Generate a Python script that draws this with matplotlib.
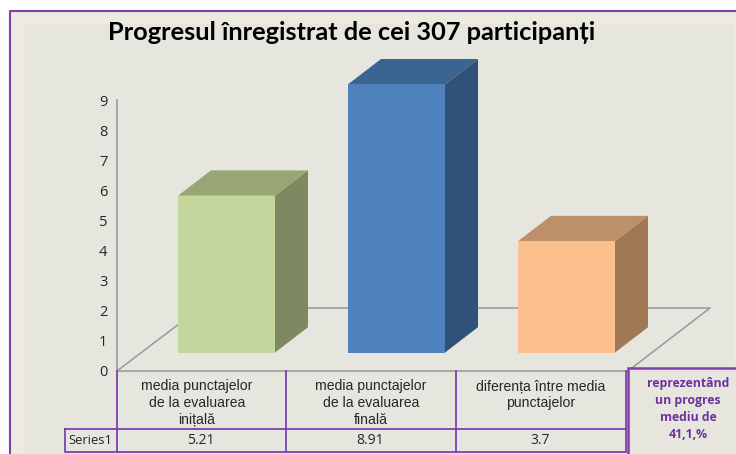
import matplotlib
matplotlib.use("Agg")
import matplotlib.pyplot as plt
from matplotlib.patches import Polygon, Rectangle

# --- data ---
categories = ["media punctajelor\nde la evaluarea\ninițală",
              "media punctajelor\nde la evaluarea\nfinală",
              "diferența între media\npunctajelor"]
values = [5.21, 8.91, 3.7]
value_labels = ["5.21", "8.91", "3.7"]
series_name = "Series1"
title = "Progresul înregistrat de cei 307 participanți"
note = "reprezentând\nun progres\nmediu de\n41,1,%"
yticks = [0, 1, 2, 3, 4, 5, 6, 7, 8, 9]
front_colors = ["#C3D69B", "#4F81BD", "#FBC08E"]
top_colors = ["#98A675", "#3A6491", "#BD9069"]
side_colors = ["#7D8960", "#315278", "#A07856"]

W, H = 736, 454
PURPLE = "#7F3FB0"
GREY = "#999999"
TEXT = "#262626"

fig = plt.figure(figsize=(W / 100, H / 100), dpi=100, facecolor="white")


def rect_px(x0, y_top, x1, y_bot):
    return [x0 / W, 1 - y_bot / H, (x1 - x0) / W, (y_bot - y_top) / H]


# overlay in pixel coordinates for panel, floor and table
bg = fig.add_axes([0, 0, 1, 1], zorder=0)
bg.set_xlim(0, W)
bg.set_ylim(H, 0)
bg.axis("off")
bg.add_patch(Rectangle((10, 11), W, H, fc="#EDEADF", ec="none"))
bg.add_patch(Rectangle((24, 24), W - 24 - 1, H, fc="#E6E6DF", ec="none"))
bg.plot([10, 10, W], [H, 11, 11], color=PURPLE, lw=1.5, solid_capstyle="butt")
# floor
bg.plot([117, 200, 710, 628], [371, 308, 308, 371], color=GREY, lw=1.1)
bg.plot([117, 628], [371, 371], color=GREY, lw=1.1)

# y axis (origin at the front of the floor)
ay = fig.add_axes(rect_px(117, 100, 118, 371), zorder=1)
ay.patch.set_alpha(0)
ay.set_ylim(0, 9)
ay.set_xticks([])
ay.set_yticks(yticks)
ay.tick_params(axis="y", length=0, pad=7, labelsize=10.5, labelcolor=TEXT)
for lab in ay.get_yticklabels():
    lab.set_family("Open Sans")
for s in ["top", "right", "bottom"]:
    ay.spines[s].set_visible(False)
ay.spines["left"].set_color(GREY)
ay.spines["left"].set_linewidth(1.2)

# bars: oblique 3D columns
ax = fig.add_axes(rect_px(141.5, 50.5, 651.5, 352.5), zorder=2)
ax.patch.set_alpha(0)
ax.set_xlim(-0.5, 2.5)
ax.set_ylim(0, 302 / 30.1)
ax.axis("off")
bw = 97 / 170
dx = 33 / 170
dy = 25.3 / 30.1
for i, v in enumerate(values):
    l, r = i - bw / 2, i + bw / 2
    ax.add_patch(Polygon([(r, 0), (r + dx, dy), (r + dx, v + dy), (r, v)], fc=side_colors[i], ec="none"))
    ax.add_patch(Polygon([(l, v), (r, v), (r + dx, v + dy), (l + dx, v + dy)], fc=top_colors[i], ec="none"))
    ax.add_patch(Rectangle((l, 0), bw, v, fc=front_colors[i], ec="none"))

# title
bg.text(352, 33, title, family="Lato", weight="bold", fontsize=18.25, color="black",
        ha="center", va="center", zorder=5)

# data table
cols = [117, 286, 456, 626]
label_x = [197, 371, 541]
label_y = [403, 403, 395]
tb = fig.add_axes([0, 0, 1, 1], zorder=3)
tb.set_xlim(0, W)
tb.set_ylim(H, 0)
tb.axis("off")
for x in cols:
    tb.plot([x, x], [371, 452], color=PURPLE, lw=1.3)
tb.plot([65, 65, 626], [429, 452, 452], color=PURPLE, lw=1.3)
tb.plot([65, 626], [429, 429], color=PURPLE, lw=1.3)
tb.text(90.5, 440, series_name, family="Open Sans", fontsize=9.4, color=TEXT, ha="center", va="center")
for i in range(3):
    cx = (cols[i] + cols[i + 1]) / 2
    tb.text(label_x[i], label_y[i], categories[i], family="Liberation Sans", fontsize=10.1, color=TEXT,
            ha="center", va="center", linespacing=1.27)
    tb.text(cx - 1, 440, value_labels[i], family="Open Sans", fontsize=10, color=TEXT, ha="center", va="center")

# side note box
tb.add_patch(Rectangle((627.5, 367.5), 120, 100, fc="#E6E6DF", ec=PURPLE, lw=1.8, clip_on=True))
tb.text(688, 409, note, family="Open Sans", weight="bold", fontsize=8.8, color="#7030A0",
        ha="center", va="center", linespacing=1.38)

fig.savefig("out.png", dpi=100, facecolor="white")
